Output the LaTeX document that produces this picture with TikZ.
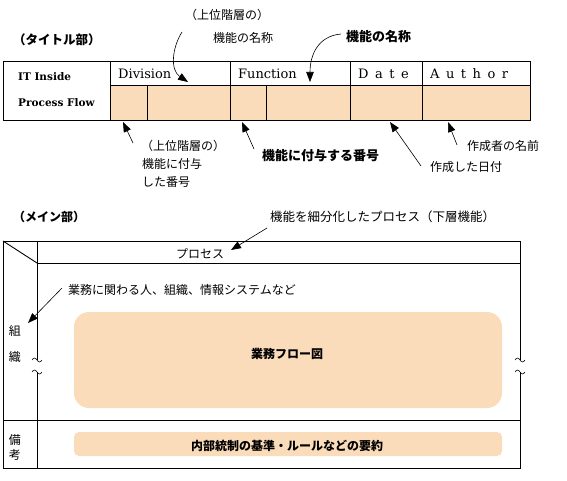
\documentclass[tikz,border=0pt]{standalone}
\usepackage{fontspec}
\setmainfont{DejaVu Serif}
\newfontfamily\jp{Noto Sans CJK JP}
\usetikzlibrary{arrows.meta}
\definecolor{orng}{RGB}{251,220,186}
\begin{document}
\begin{tikzpicture}[x=1pt,y=-1pt,
  ln/.style={line width=0.9pt},
  arr/.style={line width=0.6pt,-{Triangle[length=10pt,width=7.5pt]}},
  jtxt/.style={font=\jp\fontsize{12}{12}\selectfont,inner sep=0pt,anchor=west},
  jbold/.style={font=\jp\bfseries\fontsize{12}{12}\selectfont,inner sep=0pt,anchor=west},
  jc/.style={font=\jp\fontsize{12}{12}\selectfont,inner sep=0pt},
  jcb/.style={font=\jp\bfseries\fontsize{12}{12}\selectfont,inner sep=0pt},
  hdr/.style={font=\fontsize{13}{13}\selectfont,inner sep=0pt,anchor=west},
  lat/.style={font=\bfseries\fontsize{10.5}{10.5}\selectfont,inner sep=0pt,anchor=west}]
\useasboundingbox (0,0) rectangle (567,481);

% ---------------- title table ----------------
\node[jbold,font=\jp\bfseries\fontsize{12.5}{12.5}\selectfont] (ttl) at (13,40) {（タイトル部）};
\fill[orng] (110,85) rectangle (530,120);
\draw[ln] (3,61) rectangle (530,120);
\draw[ln] (110,85) -- (530,85);
\foreach \x in {110,230,350,422} \draw[ln] (\x,61) -- (\x,120);
\foreach \x in {147,266} \draw[ln] (\x,85) -- (\x,120);

\node[lat] (it) at (18,77) {IT Inside};
\node[lat] (pf) at (18,103) {Process Flow};
\node[hdr] (div) at (118,74) {Division};
\node[hdr] (fun) at (238,74) {Function};
\node[hdr] (date) at (358,74) {D\hspace{6.5pt}a\hspace{6.5pt}t\hspace{6.5pt}e};
\node[hdr] (auth) at (430,74) {A\hspace{6.5pt}u\hspace{6.5pt}t\hspace{6.5pt}h\hspace{6.5pt}o\hspace{6.5pt}r};

% top labels
\node[jtxt] (up1) at (185,15) {（上位階層の）};
\node[jtxt] (up2) at (213,38) {機能の名称};
\node[jbold,font=\jp\bfseries\fontsize{13}{13}\selectfont] (fname) at (346,37) {機能の名称};
\coordinate (s1) at (182,32);
\coordinate (t1) at (188,82);
\draw[arr] (s1) .. controls (172,48) and (170,70) .. (t1);
\coordinate (s2) at (341,34);
\coordinate (t2) at (310,82);
\draw[arr] (s2) .. controls (318,36) and (310,55) .. (t2);

% bottom labels
\node[jtxt] (b1a) at (141,146) {（上位階層の）};
\node[jtxt] (b1b) at (142,164) {機能に付与};
\node[jtxt] (b1c) at (142,182) {した番号};
\node[jbold,font=\jp\bfseries\fontsize{13}{13}\selectfont] (b2) at (262,156) {機能に付与する番号};
\node[jtxt] (b3) at (430,167) {作成した日付};
\node[jtxt] (b4) at (467,146) {作成者の名前};
\coordinate (s3) at (133,143); \coordinate (t3) at (123,122);
\coordinate (s4) at (254,149); \coordinate (t4) at (242,122);
\coordinate (s5) at (421,166); \coordinate (t5) at (390,122);
\coordinate (s6) at (457,145); \coordinate (t6) at (448,122);
\draw[arr] (s3) -- (t3);
\draw[arr] (s4) -- (t4);
\draw[arr] (s5) -- (t5);
\draw[arr] (s6) -- (t6);

% ---------------- main part ----------------
\node[jbold] (main) at (13,217) {（メイン部）};
\node[jtxt,font=\jp\fontsize{12.5}{12.5}\selectfont] (sub) at (270,217) {機能を細分化したプロセス（下層機能）};
\coordinate (s7) at (267,228); \coordinate (t7) at (231,250);
\draw[arr] (s7) -- (t7);

\draw[ln] (520,360) -- (520,241) -- (3,241) -- (3,468) -- (520,468) -- (520,372);
\draw[ln] (37,263) -- (520,263);
\draw[ln] (3,241) -- (37,263);
\draw[ln] (37,241) -- (37,360);
\draw[ln] (37,372) -- (37,468);
\draw[ln] (3,420) -- (520,420);
\foreach \x in {37,520}{
  \foreach \y in {360,372}{
    \draw[line width=0.6pt] (\x-5,\y) sin (\x-2.5,\y-2) cos (\x,\y) sin (\x+2.5,\y+2) cos (\x+5,\y);
  }
}

\node[jc] (proc) at (200,254) {プロセス};
\node[jc] (so) at (15,331) {組};
\node[jc] (shiki) at (15,357) {織};
\node[jc] (bi) at (15,440) {備};
\node[jc] (ko) at (15,455) {考};

\node[jtxt] (org) at (68,290) {業務に関わる人、組織、情報システムなど};
\coordinate (s8) at (62,288); \coordinate (t8) at (28,323);
\draw[arr] (s8) -- (t8);

\fill[orng,rounded corners=15pt] (74,312) rectangle (502,408);
\node[jcb] (flow) at (287,354) {業務フロー図};
\fill[orng,rounded corners=5pt] (74,432) rectangle (502,456);
\node[jcb] (rule) at (287,446) {内部統制の基準・ルールなどの要約};
\end{tikzpicture}
\end{document}
